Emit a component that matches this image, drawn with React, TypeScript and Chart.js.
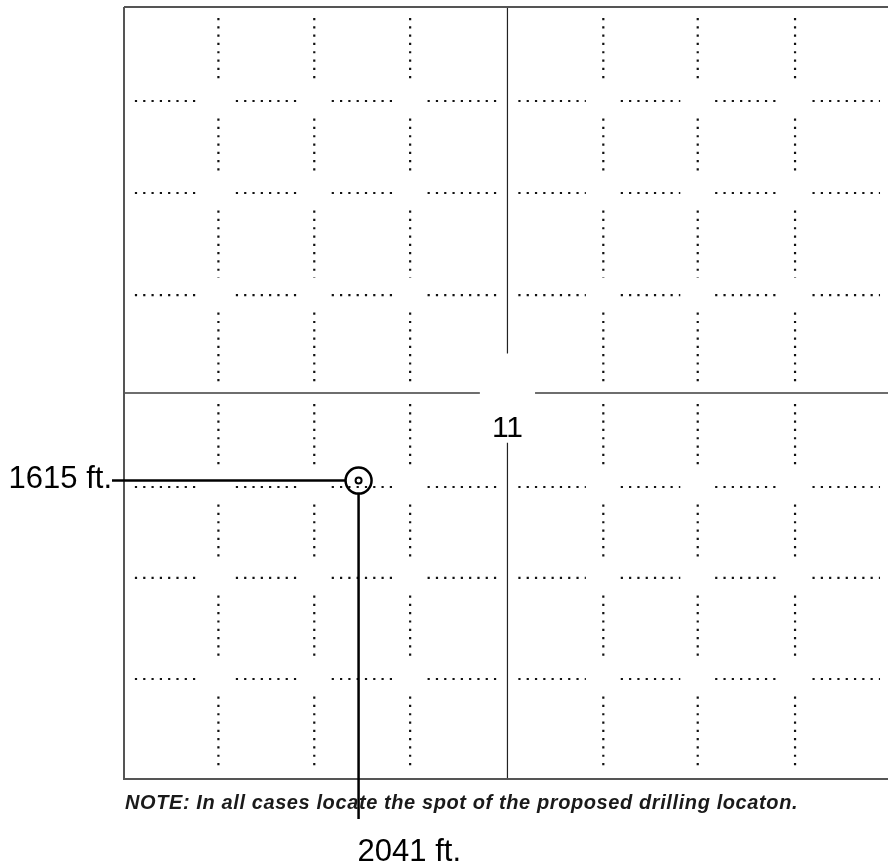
import React, { useEffect, useRef } from "react";
import { Chart, registerables } from "chart.js";

Chart.register(...registerables);

// ---- data (feet) ----
const SECTION_FT = 5280;
const HALF_FT = 2640;
const VIEW_EAST_FT = 5260; // the plat is cropped just short of the east section line
const sectionNumber = "11";
// dotted quarter-quarter lines, read from the plat
const qqColumnsFt = [650, 1310, 1970, 3300, 3950, 4620]; // distance from west line
const qqRowsFt = [684, 1375, 1997, 3310, 4008, 4637]; // distance from south line
// proposed well location
const wellFromWestFt = [1615];
const wellFromSouthFt = [2041];
const noteText = "NOTE: In all cases locate the spot of the proposed drilling locaton.";

// gaps (ft) left open in the dotted lines and around the section number
const EDGE_GAP = 75;
const CROSS_GAP = 120;
const LABEL_GAP_EW = 190;
const LABEL_GAP_N = 270;
const LABEL_GAP_S = 340;

function runs(crossing: number[]): [number, number][] {
  const stops = [
    ...[0, HALF_FT, SECTION_FT].map((v) => ({ v, g: EDGE_GAP })),
    ...crossing.map((v) => ({ v, g: CROSS_GAP })),
  ].sort((a, b) => a.v - b.v);
  const out: [number, number][] = [];
  for (let i = 0; i < stops.length - 1; i++) {
    out.push([stops[i].v + stops[i].g, stops[i + 1].v - stops[i + 1].g]);
  }
  return out;
}

function columnData(xFt: number): any[] {
  const pts: any[] = [];
  runs(qqRowsFt).forEach(([a, b]) => {
    pts.push({ x: xFt, y: b }, { x: xFt, y: a }, { x: xFt, y: null });
  });
  return pts;
}

function rowData(yFt: number): any[] {
  const pts: any[] = [];
  runs(qqColumnsFt).forEach(([a, b]) => {
    pts.push({ x: a, y: yFt }, { x: b, y: yFt }, { x: null, y: null });
  });
  return pts;
}

const FONT = "'Liberation Sans', Arial, Helvetica, sans-serif";

const annotatePlugin = {
  id: "platAnnotations",
  afterDraw(chart: any) {
    const { ctx, chartArea, scales } = chart;
    const xs = scales.x;
    const ys = scales.y;
    const px = xs.getPixelForValue(wellFromWestFt[0]);
    const py = ys.getPixelForValue(wellFromSouthFt[0]);
    const r = 13;
    ctx.save();
    ctx.strokeStyle = "#000";
    ctx.lineWidth = 2.5;
    ctx.lineCap = "butt";
    // leader to west label
    ctx.beginPath();
    ctx.moveTo(chartArea.left - 12, py);
    ctx.lineTo(px - r, py);
    ctx.stroke();
    // leader to south label
    ctx.beginPath();
    ctx.moveTo(px, py + r);
    ctx.lineTo(px, chartArea.bottom + 40);
    ctx.stroke();

    ctx.fillStyle = "#000";
    ctx.textBaseline = "alphabetic";
    ctx.font = `31px ${FONT}`;
    ctx.textAlign = "right";
    ctx.fillText(`${wellFromWestFt[0]} ft.`, chartArea.left - 12, py + 7);
    ctx.textAlign = "left";
    ctx.fillText(`${wellFromSouthFt[0]} ft.`, px - 1, chartArea.bottom + 82);

    // section number
    ctx.font = `30px ${FONT}`;
    ctx.textAlign = "center";
    ctx.fillText(sectionNumber, xs.getPixelForValue(HALF_FT), ys.getPixelForValue(HALF_FT) + 44);

    // note
    ctx.fillStyle = "#1a1a1a";
    ctx.font = `italic bold 20px ${FONT}`;
    ctx.textAlign = "left";
    try {
      (ctx as any).letterSpacing = "0.6px";
    } catch (e) {}
    ctx.fillText(noteText, chartArea.left + 1, chartArea.bottom + 30);
    try {
      (ctx as any).letterSpacing = "0px";
    } catch (e) {}
    ctx.restore();
  },
};

export default function App() {
  const ref = useRef<HTMLCanvasElement | null>(null);

  useEffect(() => {
    if (!ref.current) return;
    const dotted = {
      borderColor: "#111",
      borderWidth: 2.2,
      borderDash: [2.2, 6.1],
      borderCapStyle: "butt",
      pointRadius: 0,
      showLine: true,
      spanGaps: false,
      clip: false,
      fill: false,
    };
    const datasets: any[] = [];
    qqColumnsFt.forEach((c) => datasets.push({ ...dotted, data: columnData(c) }));
    qqRowsFt.forEach((r) => datasets.push({ ...dotted, data: rowData(r) }));

    // section outline
    datasets.push({
      data: [
        { x: 0, y: SECTION_FT },
        { x: SECTION_FT, y: SECTION_FT },
        { x: SECTION_FT, y: 0 },
        { x: 0, y: 0 },
        { x: 0, y: SECTION_FT },
      ],
      borderColor: "#555",
      borderWidth: 2,
      pointRadius: 0,
      showLine: true,
      clip: false,
      fill: false,
    });
    // quarter line E-W
    datasets.push({
      data: [
        { x: 0, y: HALF_FT },
        { x: HALF_FT - LABEL_GAP_EW, y: HALF_FT },
        { x: HALF_FT, y: null },
        { x: HALF_FT + LABEL_GAP_EW, y: HALF_FT },
        { x: SECTION_FT, y: HALF_FT },
      ],
      borderColor: "#6e6e6e",
      borderWidth: 2,
      pointRadius: 0,
      showLine: true,
      spanGaps: false,
      clip: false,
      fill: false,
    });
    // quarter line N-S
    datasets.push({
      data: [
        { x: HALF_FT, y: SECTION_FT },
        { x: HALF_FT, y: HALF_FT + LABEL_GAP_N },
        { x: HALF_FT, y: null },
        { x: HALF_FT, y: HALF_FT - LABEL_GAP_S },
        { x: HALF_FT, y: 0 },
      ],
      borderColor: "#222",
      borderWidth: 1.2,
      pointRadius: 0,
      showLine: true,
      spanGaps: false,
      clip: false,
      fill: false,
    });
    // well symbol
    datasets.push({
      data: wellFromWestFt.map((x, i) => ({ x, y: wellFromSouthFt[i] })),
      showLine: false,
      pointRadius: 13,
      pointBorderWidth: 2.5,
      pointBorderColor: "#000",
      pointBackgroundColor: "rgba(0,0,0,0)",
      clip: false,
    });
    datasets.push({
      data: wellFromWestFt.map((x, i) => ({ x, y: wellFromSouthFt[i] })),
      showLine: false,
      pointRadius: 3,
      pointBorderWidth: 2,
      pointBorderColor: "#000",
      pointBackgroundColor: "#fff",
      clip: false,
    });

    const chart = new Chart(ref.current, {
      type: "scatter",
      data: { datasets },
      options: {
        responsive: false,
        animation: false,
        events: [],
        layout: { autoPadding: false, padding: { left: 124, right: 0, top: 7, bottom: 83 } },
        scales: {
          x: { type: "linear", min: 0, max: VIEW_EAST_FT, display: false },
          y: { type: "linear", min: 0, max: SECTION_FT, display: false },
        },
        plugins: {
          legend: { display: false },
          tooltip: { enabled: false },
          title: { display: false },
        },
      } as any,
      plugins: [annotatePlugin],
    });
    return () => chart.destroy();
  }, []);

  return (
    <div style={{ position: "absolute", left: 0, top: 0, width: 888, height: 862, background: "#fff" }}>
      <canvas ref={ref} width={888} height={862} style={{ display: "block" }} />
    </div>
  );
}
